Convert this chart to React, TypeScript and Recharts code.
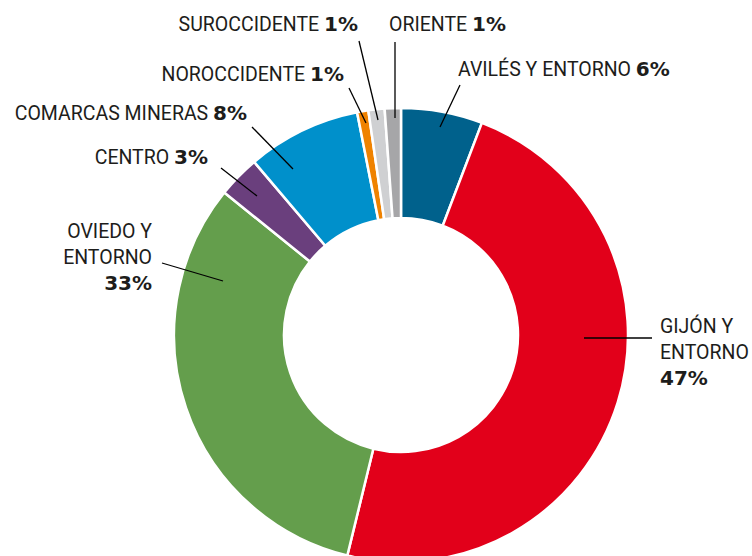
import { PieChart, Pie, Cell } from "recharts";

const zones = [
  "AVILÉS Y ENTORNO",
  "GIJÓN Y ENTORNO",
  "OVIEDO Y ENTORNO",
  "CENTRO",
  "COMARCAS MINERAS",
  "NOROCCIDENTE",
  "SUROCCIDENTE",
  "ORIENTE",
];
// slice sizes
const shares = [5.8, 48.0, 32.0, 3.0, 8.1, 0.8, 1.15, 1.15];
// the percentages printed on the labels
const shownPct = ["6%", "47%", "33%", "3%", "8%", "1%", "1%", "1%"];
const colors = ["#00618c", "#e2001a", "#649e4c", "#6a3f7d", "#0090cb", "#ef8200", "#cfd0d2", "#a6a6a8"];

const data = zones.map((name, i) => ({ name, value: shares[i], pct: shownPct[i] }));

// label placement, offsets from the pie centre
type LabelLayout = {
  line: [number, number, number, number];
  lines: string[];
  x: number;
  y: number;
  anchor: "start" | "end";
  stacked?: boolean;
};

const layout: Record<string, LabelLayout> = {
  "AVILÉS Y ENTORNO": { line: [39, -208, 59, -250], lines: ["AVILÉS Y ENTORNO"], x: 57, y: -259, anchor: "start" },
  "GIJÓN Y ENTORNO": { line: [183, 3, 251, 3], lines: ["GIJÓN Y", "ENTORNO"], x: 259, y: -2, anchor: "start", stacked: true },
  "OVIEDO Y ENTORNO": { line: [-178, -54, -239, -72], lines: ["OVIEDO Y", "ENTORNO"], x: -249, y: -97, anchor: "end", stacked: true },
  CENTRO: { line: [-144, -139, -180, -167], lines: ["CENTRO"], x: -193, y: -171, anchor: "end" },
  "COMARCAS MINERAS": { line: [-108, -166, -149, -208], lines: ["COMARCAS MINERAS"], x: -154, y: -215, anchor: "end" },
  NOROCCIDENTE: { line: [-35, -212, -52, -247], lines: ["NOROCCIDENTE"], x: -57, y: -254, anchor: "end" },
  SUROCCIDENTE: { line: [-23, -215, -42, -294], lines: ["SUROCCIDENTE"], x: -43, y: -304, anchor: "end" },
  ORIENTE: { line: [-6, -217, -6, -293], lines: ["ORIENTE"], x: -12, y: -304, anchor: "start" },
};

const textColor = "#1d1d1b";
const pctStyle = { fontFamily: "'DejaVu Sans', sans-serif", fontWeight: 700, fontSize: 20 };

const renderLabel = (props: any) => {
  const { cx, cy, name, payload } = props;
  const l = layout[name];
  if (!l) return null;
  const [x1, y1, x2, y2] = l.line;
  const tx = cx + l.x;
  const ty = cy + l.y;
  const pct = payload?.pct ?? "";
  return (
    <g>
      <line x1={cx + x1} y1={cy + y1} x2={cx + x2} y2={cy + y2} stroke="#000" strokeWidth={1.3} />
      <text
        x={tx}
        y={ty}
        textAnchor={l.anchor}
        fill={textColor}
        style={{ fontFamily: "Roboto, sans-serif", fontSize: 19.5 }}
      >
        {l.stacked ? (
          <>
            {l.lines.map((row, i) => (
              <tspan key={i} x={tx} y={ty + i * 26}>
                {row}
              </tspan>
            ))}
            <tspan x={tx} y={ty + l.lines.length * 26} style={pctStyle}>
              {pct}
            </tspan>
          </>
        ) : (
          <>
            <tspan>{l.lines[0] + " "}</tspan>
            <tspan style={pctStyle}>{pct}</tspan>
          </>
        )}
      </text>
    </g>
  );
};

export default function App() {
  return (
    <div style={{ position: "absolute", left: 0, top: 0, width: 752, height: 556, background: "#fff" }}>
      <PieChart width={752} height={556} margin={{ top: 0, right: 0, bottom: 0, left: 0 }}>
        <Pie
          data={data}
          dataKey="value"
          nameKey="name"
          cx={401}
          cy={335}
          innerRadius={117}
          outerRadius={227}
          startAngle={90}
          endAngle={-270}
          stroke="#fff"
          strokeWidth={2.5}
          label={renderLabel}
          labelLine={false}
          isAnimationActive={false}
        >
          {data.map((d, i) => (
            <Cell key={d.name} fill={colors[i]} />
          ))}
        </Pie>
      </PieChart>
    </div>
  );
}
